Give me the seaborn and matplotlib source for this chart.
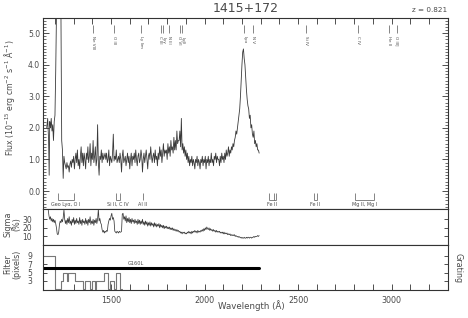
import matplotlib
matplotlib.use("Agg")
import matplotlib.pyplot as plt
import seaborn as sns
from matplotlib.ticker import MultipleLocator, FixedLocator, FormatStrFormatter

sns.set_theme(style="ticks")
plt.rcParams['font.family'] = ['DejaVu Sans']

# ---------------- data ----------------
title = "1415+172"
redshift_text = "z = 0.821"

wave_grid = [
    1164, 1168, 1172, 1176, 1180, 1184, 1188, 1192, 1196, 1200,
    1204, 1208, 1212, 1216, 1220, 1224, 1228, 1232, 1236, 1240,
    1244, 1248, 1252, 1256, 1260, 1264, 1268, 1272, 1276, 1280,
    1284, 1288, 1292, 1296, 1300, 1304, 1308, 1312, 1316, 1320,
    1324, 1328, 1332, 1336, 1340, 1344, 1348, 1352, 1356, 1360,
    1364, 1368, 1372, 1376, 1380, 1384, 1388, 1392, 1396, 1400,
    1404, 1408, 1412, 1416, 1420, 1424, 1428, 1432, 1436, 1440,
    1444, 1448, 1452, 1456, 1460, 1464, 1468, 1472, 1476, 1480,
    1484, 1488, 1492, 1496, 1500, 1504, 1508, 1512, 1516, 1520,
    1524, 1528, 1532, 1536, 1540, 1544, 1548, 1552, 1556, 1560,
    1564, 1568, 1572, 1576, 1580, 1584, 1588, 1592, 1596, 1600,
    1604, 1608, 1612, 1616, 1620, 1624, 1628, 1632, 1636, 1640,
    1644, 1648, 1652, 1656, 1660, 1664, 1668, 1672, 1676, 1680,
    1684, 1688, 1692, 1696, 1700, 1704, 1708, 1712, 1716, 1720,
    1724, 1728, 1732, 1736, 1740, 1744, 1748, 1752, 1756, 1760,
    1764, 1768, 1772, 1776, 1780, 1784, 1788, 1792, 1796, 1800,
    1804, 1808, 1812, 1816, 1820, 1824, 1828, 1832, 1836, 1840,
    1844, 1848, 1852, 1856, 1860, 1864, 1868, 1872, 1876, 1880,
    1884, 1888, 1892, 1896, 1900, 1904, 1908, 1912, 1916, 1920,
    1924, 1928, 1932, 1936, 1940, 1944, 1948, 1952, 1956, 1960,
    1964, 1968, 1972, 1976, 1980, 1984, 1988, 1992, 1996, 2000,
    2004, 2008, 2012, 2016, 2020, 2024, 2028, 2032, 2036, 2040,
    2044, 2048, 2052, 2056, 2060, 2064, 2068, 2072, 2076, 2080,
    2084, 2088, 2092, 2096, 2100, 2104, 2108, 2112, 2116, 2120,
    2124, 2128, 2132, 2136, 2140, 2144, 2148, 2152, 2156, 2160,
    2164, 2168, 2172, 2176, 2180, 2184, 2188, 2192, 2196, 2200,
    2204, 2208, 2212, 2216, 2220, 2224, 2228, 2232, 2236, 2240,
    2244, 2248, 2252, 2256, 2260, 2264, 2268, 2272, 2276, 2280,
    2284, 2288, 2292,
]

# blue end incl. geocoronal Lya (off scale)
geo_wave = [1156, 1161, 1166, 1169, 1172, 1176, 1180, 1184, 1188, 1192,
            1196, 1200, 1204, 1208, 1213, 1219, 1226, 1232]
geo_flux = [2.0, 2.3, 1.6, 0.5, 2.2, 2.0, 2.3, 1.9, 2.1, 1.6,
            2.2, 2.4, 3.8, 5.6, 5.6, 5.6, 5.6, 5.6]

# flux (1e-15) on wave_grid starting at 1236
flux_vals = [
    1.6, 1.3,
    0.4, 1.1, 0.9, 0.8, 0.7, 0.9, 0.75, 0.8, 0.6, 0.85,
    0.95, 0.75, 1.0, 0.9, 1.1, 0.7, 1.0, 1.2, 0.9, 1.3,
    0.8, 1.0, 0.7, 1.1, 1.4, 0.9, 1.2, 0.8, 1.2, 1.0,
    0.7, 1.2, 1.0, 1.4, 0.9, 1.1, 1.5, 0.8, 1.2, 1.0,
    1.6, 0.9, 1.1, 1.4, 0.8, 1.0, 2.1, 0.9, 0.5, 1.1,
    1.0, 1.3, 0.9, 1.2, 1.0, 1.1, 1.2, 1.0, 1.2, 0.9,
    1.0, 1.3, 0.8, 1.1, 1.0, 0.9, 1.2, 1.8, 0.95, 1.1,
    1.0, 1.3, 0.9, 1.0, 1.1, 0.9, 1.2, 1.0, 0.6, 1.1,
    1.3, 0.9, 1.0, 1.1, 0.8, 1.0, 1.2, 0.9, 1.1, 0.7,
    1.0, 1.2, 0.8, 1.1, 1.0, 1.2, 0.9, 1.3, 1.0, 0.8,
    1.1, 1.2, 0.9, 1.0, 1.3, 1.1, 0.6, 1.0, 1.2, 0.9,
    1.1, 1.3, 1.0, 0.7, 1.1, 1.2, 1.0, 1.4, 1.1, 0.9,
    1.1, 1.2, 0.9, 1.3, 1.0, 1.1, 0.8, 1.2, 1.0, 1.4,
    1.1, 1.3, 0.9, 1.2, 1.5, 1.1, 1.3, 1.2, 1.3, 1.0,
    1.5, 1.2, 1.4, 1.1, 1.6, 1.3, 1.4, 1.2, 1.7, 1.3,
    1.6, 1.3, 1.9, 1.5, 1.6, 1.6, 1.9, 1.4, 2.3, 1.3,
    1.5, 1.2, 1.4, 1.1, 1.3, 1.0, 1.2, 0.9, 1.1, 0.8,
    1.0, 0.9, 1.1, 0.8, 1.0, 0.9, 0.7, 1.0, 0.9, 1.1,
    0.8, 1.0, 0.9, 0.7, 1.0, 0.9, 1.1, 0.8, 1.0, 0.9,
    1.1, 0.7, 1.0, 0.9, 1.1, 0.8, 1.0, 0.9, 1.2, 0.9,
    1.0, 0.8, 1.1, 1.0, 1.2, 0.9, 1.1, 1.0, 1.0, 0.8,
    1.1, 0.9, 1.2, 1.0, 1.1, 0.9, 1.2, 1.0, 1.3, 1.1,
    1.2, 1.4, 1.1, 1.3, 1.2, 1.4, 1.3, 1.5, 1.4, 1.6,
    1.7, 1.9, 1.8, 2.0, 2.2, 2.4, 2.6, 3.0, 3.5, 4.0,
    4.4, 4.5, 4.2, 4.0, 3.6, 3.2, 2.9, 2.7, 2.6, 2.3,
    2.4, 2.0, 2.1, 1.8, 1.7, 1.9, 1.5, 1.6, 1.4, 1.5,
    1.3, 1.3, 1.2,
]

# sigma (%) on wave_grid starting at 1164
sigma_vals = [
    41, 34, 30, 33, 28, 31, 27, 30, 26, 29,
    25, 20, 13, 12, 15, 24, 28, 26, 30, 27,
    32, 41, 30, 25, 29, 24, 31, 26, 33, 25,
    28, 23, 30, 26, 32, 24, 29, 25, 31, 26,
    28, 24, 32, 25, 29, 23, 30, 26, 28, 24,
    31, 25, 29, 23, 30, 26, 33, 24, 28, 25,
    30, 23, 29, 26, 31, 25, 30, 42, 28, 31,
    26, 24, 18, 15, 17, 14, 16, 15, 17, 16,
    24, 28, 31, 29, 34, 37, 30, 32, 28, 16,
    15, 14, 16, 15, 14, 16, 15, 15, 16, 36,
    37, 30, 33, 28, 34, 26, 31, 27, 32, 26,
    30, 25, 31, 27, 29, 25, 30, 26, 28, 24,
    30, 25, 29, 24, 28, 25, 30, 24, 27, 23,
    28, 24, 27, 22, 26, 23, 27, 22, 26, 23,
    25, 21, 26, 22, 25, 21, 24, 22, 25, 20,
    24, 21, 23, 20, 23, 19, 22, 20, 22, 19,
    21, 19, 21, 18, 20, 18, 20, 17, 19, 17,
    18, 16, 18, 16, 17, 15, 16, 14, 15, 13,
    15, 14, 15, 13, 14, 13, 15, 14, 16, 14,
    15, 13, 16, 14, 16, 15, 17, 15, 16, 14,
    17, 15, 16, 15, 17, 16, 18, 16, 19, 17,
    20, 18, 21, 19, 18, 20, 17, 19, 17, 18,
    16, 18, 16, 17, 15, 17, 15, 16, 15, 16,
    14, 15, 14, 15, 13, 15, 13, 14, 13, 14,
    12, 13, 12, 13, 11, 12, 11, 12, 11, 12,
    10, 11, 10, 10, 9, 10, 9, 9, 8, 9,
    8, 8, 9, 8, 8, 9, 8, 9, 9, 8,
    9, 9, 8, 9, 9, 10, 9, 10, 10, 10,
    11, 10, 11,
]

# smoothing filter width (pixels), step function
filter_wave = [1136, 1200, 1230, 1241, 1262, 1269, 1307, 1351, 1360, 1387,
               1396, 1413, 1422, 1461, 1484, 1493, 1515, 1525, 1550, 1556]
filter_pix = [9, 1, 3, 5, 3, 5, 3, 1, 3, 1,
              3, 1, 3, 5, 1, 3, 1, 5, 1, 1]

grating_name = "G160L"
grating_range = [1136, 2292]
grating_level = 6

# emission lines (observed wavelength); close pairs share one label block
em_names = ["Ne VIII", "O III", "Ly lim", "Lyγ\nC III", "N III", "Lyβ\nO VI",
            "Lyα", "N V", "Si IV", "C IV", "He II", "O III]"]
em_waves = [[1405], [1517], [1661], [1766, 1778], [1810], [1868, 1882],
            [2212], [2257], [2544], [2820], [2986], [3028]]

# Galactic / geocoronal features
gal_labels = ["Geo Lyα, O I", "Si II, C IV", "Al II", "Fe II", "Fe II", "Mg II, Mg I"]
gal_waves = [[1216, 1302], [1526, 1549], [1670], [2344, 2374, 2382],
             [2586, 2600], [2803, 2905]]

# ---------------- figure ----------------
TXT = '#4a4a4a'
SP = '#333333'
W_PX, H_PX = 468, 318
fig = plt.figure(figsize=(W_PX / 100, H_PX / 100), dpi=100)


def fy(px):
    return 1 - px / H_PX


L = 43 / W_PX
WID = 405 / W_PX
ax1 = fig.add_axes([L, fy(209), WID, 191 / H_PX])
ax2 = fig.add_axes([L, fy(245), WID, 36 / H_PX])
ax3 = fig.add_axes([L, fy(290), WID, 45 / H_PX])

spec_wave = geo_wave + wave_grid[18:18 + len(flux_vals)]
spec_flux = geo_flux + flux_vals

sns.lineplot(x=spec_wave, y=spec_flux, ax=ax1, color='#3a3a3a', lw=0.6,
             estimator=None, sort=False, legend=False)
sns.lineplot(x=wave_grid[:len(sigma_vals)], y=sigma_vals, ax=ax2, color='#3a3a3a',
             lw=0.55, estimator=None, sort=False, legend=False)
sns.lineplot(x=filter_wave, y=filter_pix, ax=ax3, color='#777777', lw=0.8,
             drawstyle='steps-post', estimator=None, sort=False, legend=False)
sns.lineplot(x=grating_range, y=[grating_level, grating_level], ax=ax3, color='black',
             lw=2.2, estimator=None, sort=False, legend=False)
ax3.text((grating_range[0] + grating_range[1]) / 2 - 80, grating_level + 0.6, grating_name,
         fontsize=3.6, color=TXT, ha='center', va='bottom')

for ax in (ax1, ax2, ax3):
    ax.set_xlim(1136, 3302)
    ax.set_xlabel('')
    ax.set_ylabel('')
    for s in ax.spines.values():
        s.set_visible(True)
        s.set_color(SP)
        s.set_linewidth(0.8)
    ax.set_facecolor('white')

# main panel
ax1.set_ylim(-0.57, 5.48)
ax1.xaxis.set_major_locator(MultipleLocator(500))
ax1.xaxis.set_minor_locator(MultipleLocator(100))
ax1.tick_params(axis='x', which='both', direction='in', top=True, bottom=False,
                labeltop=False, labelbottom=False, length=4, width=0.6, color=SP)
ax1.yaxis.set_major_locator(MultipleLocator(1))
ax1.yaxis.set_minor_locator(MultipleLocator(0.1))
ax1.yaxis.set_major_formatter(FormatStrFormatter('%.1f'))
ax1.tick_params(axis='y', which='major', direction='in', left=True, right=True,
                length=4, width=0.6, color=SP, labelsize=5.5, labelcolor=TXT, pad=2)
ax1.tick_params(axis='y', which='minor', direction='in', left=True, right=True,
                length=2, width=0.5, color=SP)

# sigma panel
ax2.set_ylim(0, 42)
ax2.yaxis.set_major_locator(FixedLocator([10, 20, 30]))
ax2.yaxis.set_minor_locator(FixedLocator([]))
ax2.tick_params(axis='y', which='major', direction='in', left=True, right=True,
                length=3, width=0.6, color=SP, labelsize=5.5, labelcolor=TXT, pad=8)
ax2.tick_params(axis='x', which='both', bottom=False, top=False,
                labelbottom=False, labeltop=False)

# filter panel
ax3.set_ylim(0.8, 11.6)
ax3.yaxis.set_major_locator(FixedLocator([3, 5, 7, 9]))
ax3.yaxis.set_minor_locator(FixedLocator([]))
ax3.tick_params(axis='y', which='major', direction='in', left=True, right=True,
                length=3, width=0.6, color=SP, labelsize=5.5, labelcolor=TXT, pad=8)
ax3.xaxis.set_major_locator(MultipleLocator(500))
ax3.xaxis.set_minor_locator(MultipleLocator(100))
ax3.tick_params(axis='x', which='both', direction='in', bottom=True, top=False,
                length=4, width=0.6, color=SP, labelsize=5.8, labelcolor=TXT, pad=4)

# emission line ids
tr = ax1.get_xaxis_transform()
for name, ws in zip(em_names, em_waves):
    ax1.vlines(ws, 0.921, 0.963, transform=tr, color='#555555', lw=0.5)
    ax1.text((min(ws) + max(ws)) / 2, 0.905, name, transform=tr, rotation=270,
             ha='center', va='top', fontsize=3.0, color=TXT, linespacing=0.95)

# galactic features
for lab, ws in zip(gal_labels, gal_waves):
    ax1.vlines(ws, 0.047, 0.084, transform=tr, color='#555555', lw=0.5)
    if len(ws) > 1:
        ax1.hlines(0.047, min(ws), max(ws), transform=tr, color='#555555', lw=0.5)
    ax1.text((min(ws) + max(ws)) / 2, 0.024, lab, transform=tr, ha='center', va='center',
             fontsize=3.5, color=TXT)

# texts
fig.text(245.5 / W_PX, fy(8), title, ha='center', va='center', fontsize=9, color=TXT)
fig.text(447 / W_PX, fy(10), redshift_text, ha='right', va='center', fontsize=5.2, color=TXT)
fig.text(10 / W_PX, fy(98), "Flux (10$^{-15}$ erg cm$^{-2}$ s$^{-1}$ Å$^{-1}$)", rotation=90,
         ha='center', va='center', fontsize=5.6, color=TXT)
fig.text(12.5 / W_PX, fy(224), "Sigma\n(%)", rotation=90, ha='center', va='center',
         fontsize=5.8, color=TXT, linespacing=1.1)
fig.text(12.5 / W_PX, fy(264), "Filter\n(pixels)", rotation=90, ha='center', va='center',
         fontsize=5.8, color=TXT, linespacing=1.1)
fig.text(458 / W_PX, fy(268), "Grating", rotation=270, ha='center', va='center',
         fontsize=5.8, color=TXT)
fig.text(251 / W_PX, fy(306), "Wavelength (Å)", ha='center', va='center',
         fontsize=6.2, color=TXT)

fig.savefig("out.png", dpi=100, facecolor='white')
